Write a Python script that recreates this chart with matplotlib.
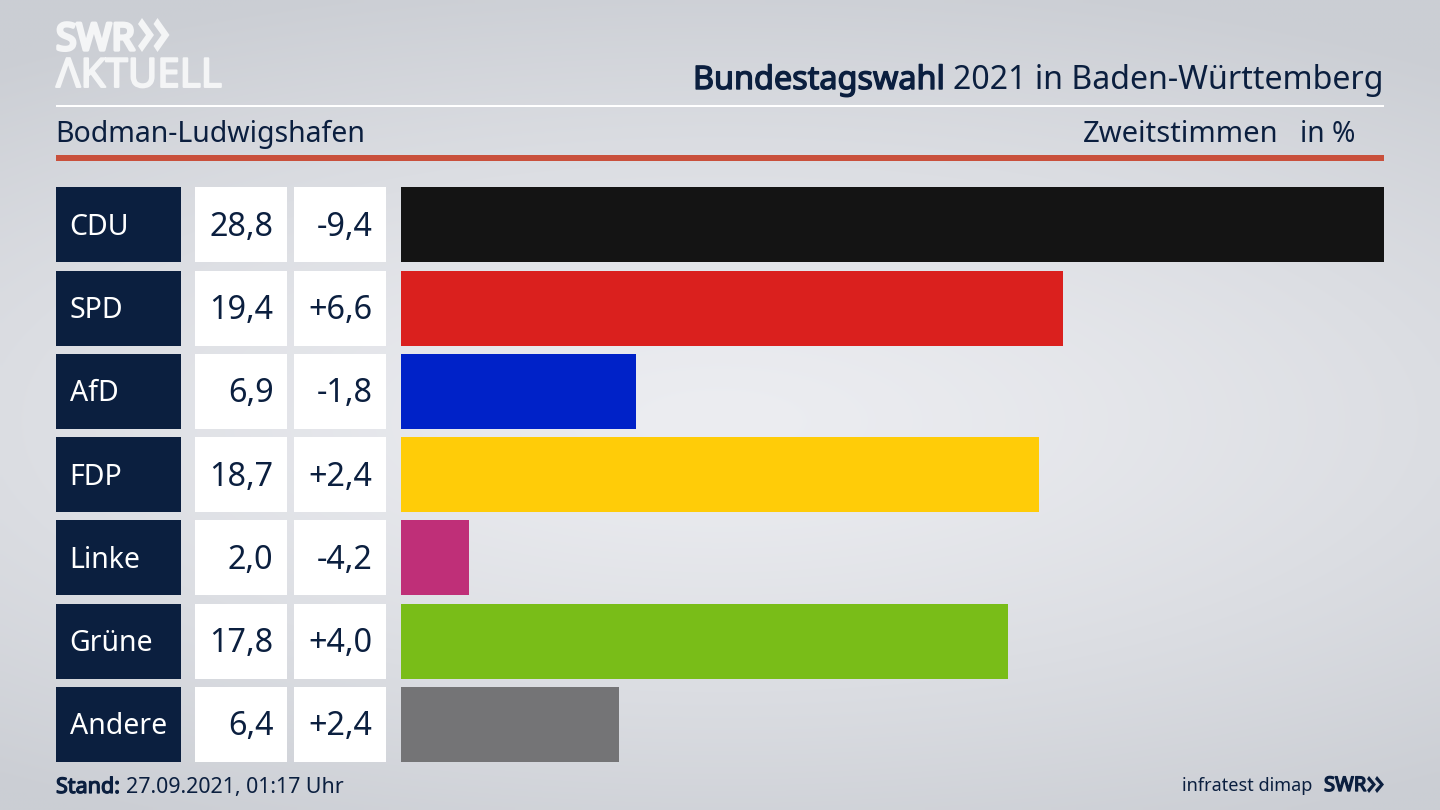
import numpy as np
import matplotlib
matplotlib.use("Agg")
import matplotlib.pyplot as plt
import matplotlib.patheffects as pe
from matplotlib.patches import Rectangle, Polygon

parties = ["CDU", "SPD", "AfD", "FDP", "Linke", "Grüne", "Andere"]
shares = [28.8, 19.4, 6.9, 18.7, 2.0, 17.8, 6.4]
changes = ["-9,4", "+6,6", "-1,8", "+2,4", "-4,2", "+4,0", "+2,4"]
colors = ["#141414", "#da201e", "#0022c8", "#ffcc08", "#bf2f78", "#79bd18", "#747476"]

NAVY = "#0b1f3f"
LOGO = "#f4f5f6"
W, H = 1440, 810
plt.rcParams["font.family"] = ["Noto Sans", "DejaVu Sans"]

def bold(color, w):
    return [pe.withStroke(linewidth=w, foreground=color)]

fig = plt.figure(figsize=(14.4, 8.1), dpi=100)

# full-figure pixel canvas
bg = fig.add_axes([0, 0, 1, 1])
bg.axis("off")
yy, xx = np.mgrid[0:1:162j, 0:1:288j]
d = np.clip(np.sqrt(((xx - .5) / .85) ** 2 + ((yy - .52) / .56) ** 2), 0, 1)
top = np.array([236, 237, 241]) / 255
edge = np.array([203, 206, 212]) / 255
img = top + (edge - top) * d[..., None] ** 1.3
bg.imshow(img, extent=[0, W, H, 0], aspect="auto", zorder=0, interpolation="bilinear")
bg.set_xlim(0, W); bg.set_ylim(H, 0)

# header rules
bg.add_patch(Rectangle((56, 104.5), 1328, 2.6, color="white", lw=0, zorder=1))
bg.add_patch(Rectangle((56, 155), 1328, 5.5, color="#c9503c", lw=0, zorder=1))

# logo
bg.text(56, 50, "SWR", fontsize=27, color=LOGO, va="baseline", ha="left", zorder=2,
        path_effects=bold(LOGO, 2.4))
bg.text(56, 87, "ΛKTUELL", fontsize=29, color=LOGO, va="baseline", ha="left", zorder=2,
        path_effects=bold(LOGO, 1.4))
for dx in (0, 15.5):
    bg.add_patch(Polygon([(138 + dx, 24), (142 + dx, 18), (154 + dx, 35), (142 + dx, 52), (138 + dx, 46), (146 + dx, 35)],
                         closed=True, color=LOGO, lw=0, zorder=2))

# titles
bg.text(693, 89, "Bundestagswahl", fontsize=23.3, color=NAVY, va="baseline", ha="left",
        path_effects=bold(NAVY, 1.0))
bg.text(1383.5, 89, "2021 in Baden-Württemberg", fontsize=23.1, color=NAVY, va="baseline", ha="right")
bg.text(55.5, 142, "Bodman-Ludwigshafen", fontsize=20.5, color=NAVY, va="baseline", ha="left")
bg.text(1278.5, 142, "Zweitstimmen", fontsize=21, color=NAVY, va="baseline", ha="right")
bg.text(1355, 142, "in %", fontsize=20.3, color=NAVY, va="baseline", ha="right")

# table cells
for i, (p, s, c) in enumerate(zip(parties, shares, changes)):
    yc = 224.8 + 83.25 * i
    y0 = yc - 37.5
    bg.add_patch(Rectangle((56, y0), 125, 75, color=NAVY, lw=0, zorder=1))
    bg.add_patch(Rectangle((195, y0), 92, 75, color="white", lw=0, zorder=1))
    bg.add_patch(Rectangle((294, y0), 92, 75, color="white", lw=0, zorder=1))
    bl = yc + 10
    bg.text(69.5, bl, p, fontsize=20.5, color="white", va="baseline", ha="left", zorder=2)
    bg.text(273.5, bl + 1, f"{s:.1f}".replace(".", ","), fontsize=23.3, color=NAVY, va="baseline", ha="right", zorder=2)
    bg.text(372.5, bl + 1, c, fontsize=23.3, color=NAVY, va="baseline", ha="right", zorder=2)

# bars
x0, x1 = 400.5, 1384
ytop, ybot = 187.3, 761.8
ax = fig.add_axes([x0 / W, 1 - ybot / H, (x1 - x0) / W, (ybot - ytop) / H])
ax.patch.set_alpha(0)
ax.barh(range(len(parties)), shares, height=75 / 83.25, color=colors, linewidth=0)
ax.set_xlim(0, max(shares))
half = 37.5 / 83.25
ax.set_ylim(len(parties) - 1 + half, -half)
ax.axis("off")

# footer
bg.text(56, 793, "Stand:", fontsize=15.5, color=NAVY, va="baseline", ha="left",
        path_effects=bold(NAVY, 0.9))
bg.text(126, 793, "27.09.2021, 01:17 Uhr", fontsize=15.4, color=NAVY, va="baseline", ha="left")
bg.text(1312, 791, "infratest dimap", fontsize=13, color=NAVY, va="baseline", ha="right")
bg.text(1324, 791, "SWR", fontsize=14.5, color=NAVY, va="baseline", ha="left",
        path_effects=bold(NAVY, 1.0))
for dx in (0, 8):
    bg.add_patch(Polygon([(1367 + dx, 779), (1369 + dx, 776), (1376 + dx, 784.5), (1369 + dx, 793), (1367 + dx, 790), (1372 + dx, 784.5)],
                         closed=True, color=NAVY, lw=0, zorder=2))

fig.savefig("out.png", dpi=100)
